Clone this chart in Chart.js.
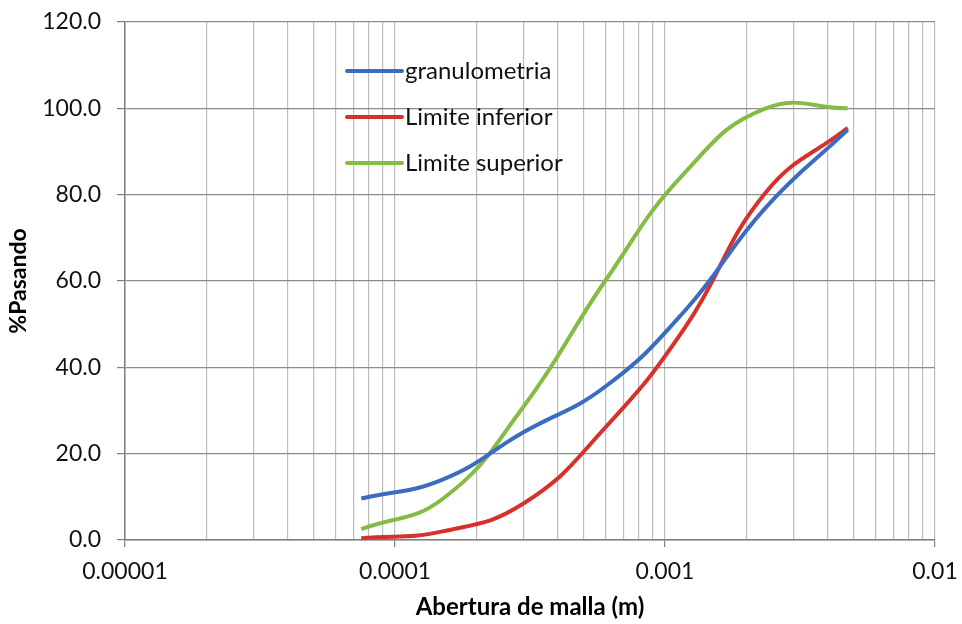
<!DOCTYPE html>
<html>
<head>
<meta charset="utf-8">
<title>Curva granulométrica</title>
<script src="https://cdn.jsdelivr.net/npm/chart.js@4.4.1/dist/chart.umd.min.js"></script>
<style>
    html, body { margin: 0; padding: 0; background: #ffffff; }
    #wrap { width: 962px; height: 624px; }
</style>
</head>
<body>
<div id="wrap"><canvas id="gradChart" width="962" height="624"></canvas></div>
<script>
// sieve openings (m) and % passing for each curve
const aberturas = [0.000075, 0.00015, 0.0003, 0.0006, 0.00118, 0.00236, 0.00475];
const granulometria = [9.6, 14.0, 25.0, 35.5, 53.0, 77.0, 95.0];
const limiteInferior = [0.4, 2.0, 8.5, 26.0, 49.0, 80.5, 95.5];
const limiteSuperior = [2.5, 9.5, 31.0, 60.0, 85.0, 100.0, 100.0];

const xTickValues = [0.00001, 0.0001, 0.001, 0.01];
const xTickLabels = ["0.00001", "0.0001", "0.001", "0.01"];

const FONT = "Lato, 'Open Sans', sans-serif";

function toPoints(ys) {
    return aberturas.map((x, i) => ({ x: x, y: ys[i] }));
}

function isDecade(v) {
    let l = Math.log10(v);
    return Math.abs(l - Math.round(l)) < 1e-9;
}

// legend drawn inside the plot, stacked vertically with no frame
const innerLegend = {
    id: "innerLegend",
    afterDatasetsDraw(chart) {
        let ctx = chart.ctx;
        let area = chart.chartArea;
        ctx.save();
        ctx.font = "24px " + FONT;
        ctx.textBaseline = "middle";
        chart.data.datasets.forEach((ds, i) => {
            let y = area.top + 49 + i * 46;
            let x0 = area.left + 222;
            ctx.strokeStyle = ds.borderColor;
            ctx.lineWidth = 4;
            ctx.lineCap = "round";
            ctx.beginPath();
            ctx.moveTo(x0, y);
            ctx.lineTo(x0 + 55, y);
            ctx.stroke();
            ctx.fillStyle = "#111111";
            ctx.fillText(ds.label, x0 + 58, y);
        });
        ctx.restore();
    }
};

let ctx = document.getElementById("gradChart").getContext("2d");
new Chart(ctx, {
    type: "line",
    data: {
        datasets: [
            {
                label: "granulometria",
                data: toPoints(granulometria),
                borderColor: "#3b6cc0",
                borderWidth: 4,
                pointRadius: 0,
                tension: 0.45,
                fill: false
            },
            {
                label: "Limite inferior",
                data: toPoints(limiteInferior),
                borderColor: "#d8302a",
                borderWidth: 4,
                pointRadius: 0,
                tension: 0.45,
                fill: false
            },
            {
                label: "Limite superior",
                data: toPoints(limiteSuperior),
                borderColor: "#86bb44",
                borderWidth: 4,
                pointRadius: 0,
                tension: 0.45,
                fill: false
            }
        ]
    },
    options: {
        responsive: false,
        animation: false,
        layout: { padding: { left: 0, right: 27, top: 22, bottom: 2 } },
        plugins: {
            legend: { display: false },
            tooltip: { enabled: false }
        },
        scales: {
            x: {
                type: "logarithmic",
                min: xTickValues[0],
                max: xTickValues[xTickValues.length - 1],
                afterBuildTicks(scale) {
                    let ticks = [];
                    for (let d = 0; d < xTickValues.length - 1; d++) {
                        for (let m = 1; m <= 9; m++) {
                            ticks.push({ value: parseFloat((m * xTickValues[d]).toPrecision(6)) });
                        }
                    }
                    ticks.push({ value: xTickValues[xTickValues.length - 1] });
                    scale.ticks = ticks;
                },
                afterFit(scale) {
                    scale.height = 82;
                    scale.paddingLeft = 0;
                    scale.paddingRight = 0;
                },
                ticks: {
                    autoSkip: false,
                    maxRotation: 0,
                    padding: 11,
                    color: "#111111",
                    font: { family: FONT, size: 23 },
                    callback(value) {
                        let i = xTickValues.findIndex(v => Math.abs(v - value) / v < 1e-6);
                        return i >= 0 ? xTickLabels[i] : "";
                    }
                },
                grid: {
                    color: "#bdbdbd",
                    lineWidth: 1.2,
                    tickLength: 7,
                    tickColor: (c) => (c.tick && isDecade(c.tick.value)) ? "#7f7f7f" : "rgba(0,0,0,0)"
                },
                border: { color: "#7f7f7f", width: 1.5 },
                title: {
                    display: true,
                    text: "Abertura de malla (m)",
                    color: "#000000",
                    font: { family: FONT, size: 24, weight: "bold" },
                    padding: { top: 3, bottom: 0 }
                }
            },
            y: {
                min: 0,
                max: 120,
                afterFit(scale) {
                    scale.width = 125;
                    scale.paddingTop = 0;
                    scale.paddingBottom = 0;
                },
                ticks: {
                    stepSize: 20,
                    padding: 16,
                    color: "#111111",
                    font: { family: FONT, size: 23 },
                    callback: (v) => v.toFixed(1)
                },
                grid: {
                    color: "#8c8c8c",
                    lineWidth: 1.2,
                    tickLength: 8,
                    tickColor: "#7f7f7f"
                },
                border: { color: "#7f7f7f", width: 1.5 },
                title: {
                    display: true,
                    text: "%Pasando",
                    color: "#000000",
                    font: { family: FONT, size: 23, weight: "bold" },
                    padding: { top: 5, bottom: 0 }
                }
            }
        }
    },
    plugins: [innerLegend]
});
</script>
</body>
</html>
